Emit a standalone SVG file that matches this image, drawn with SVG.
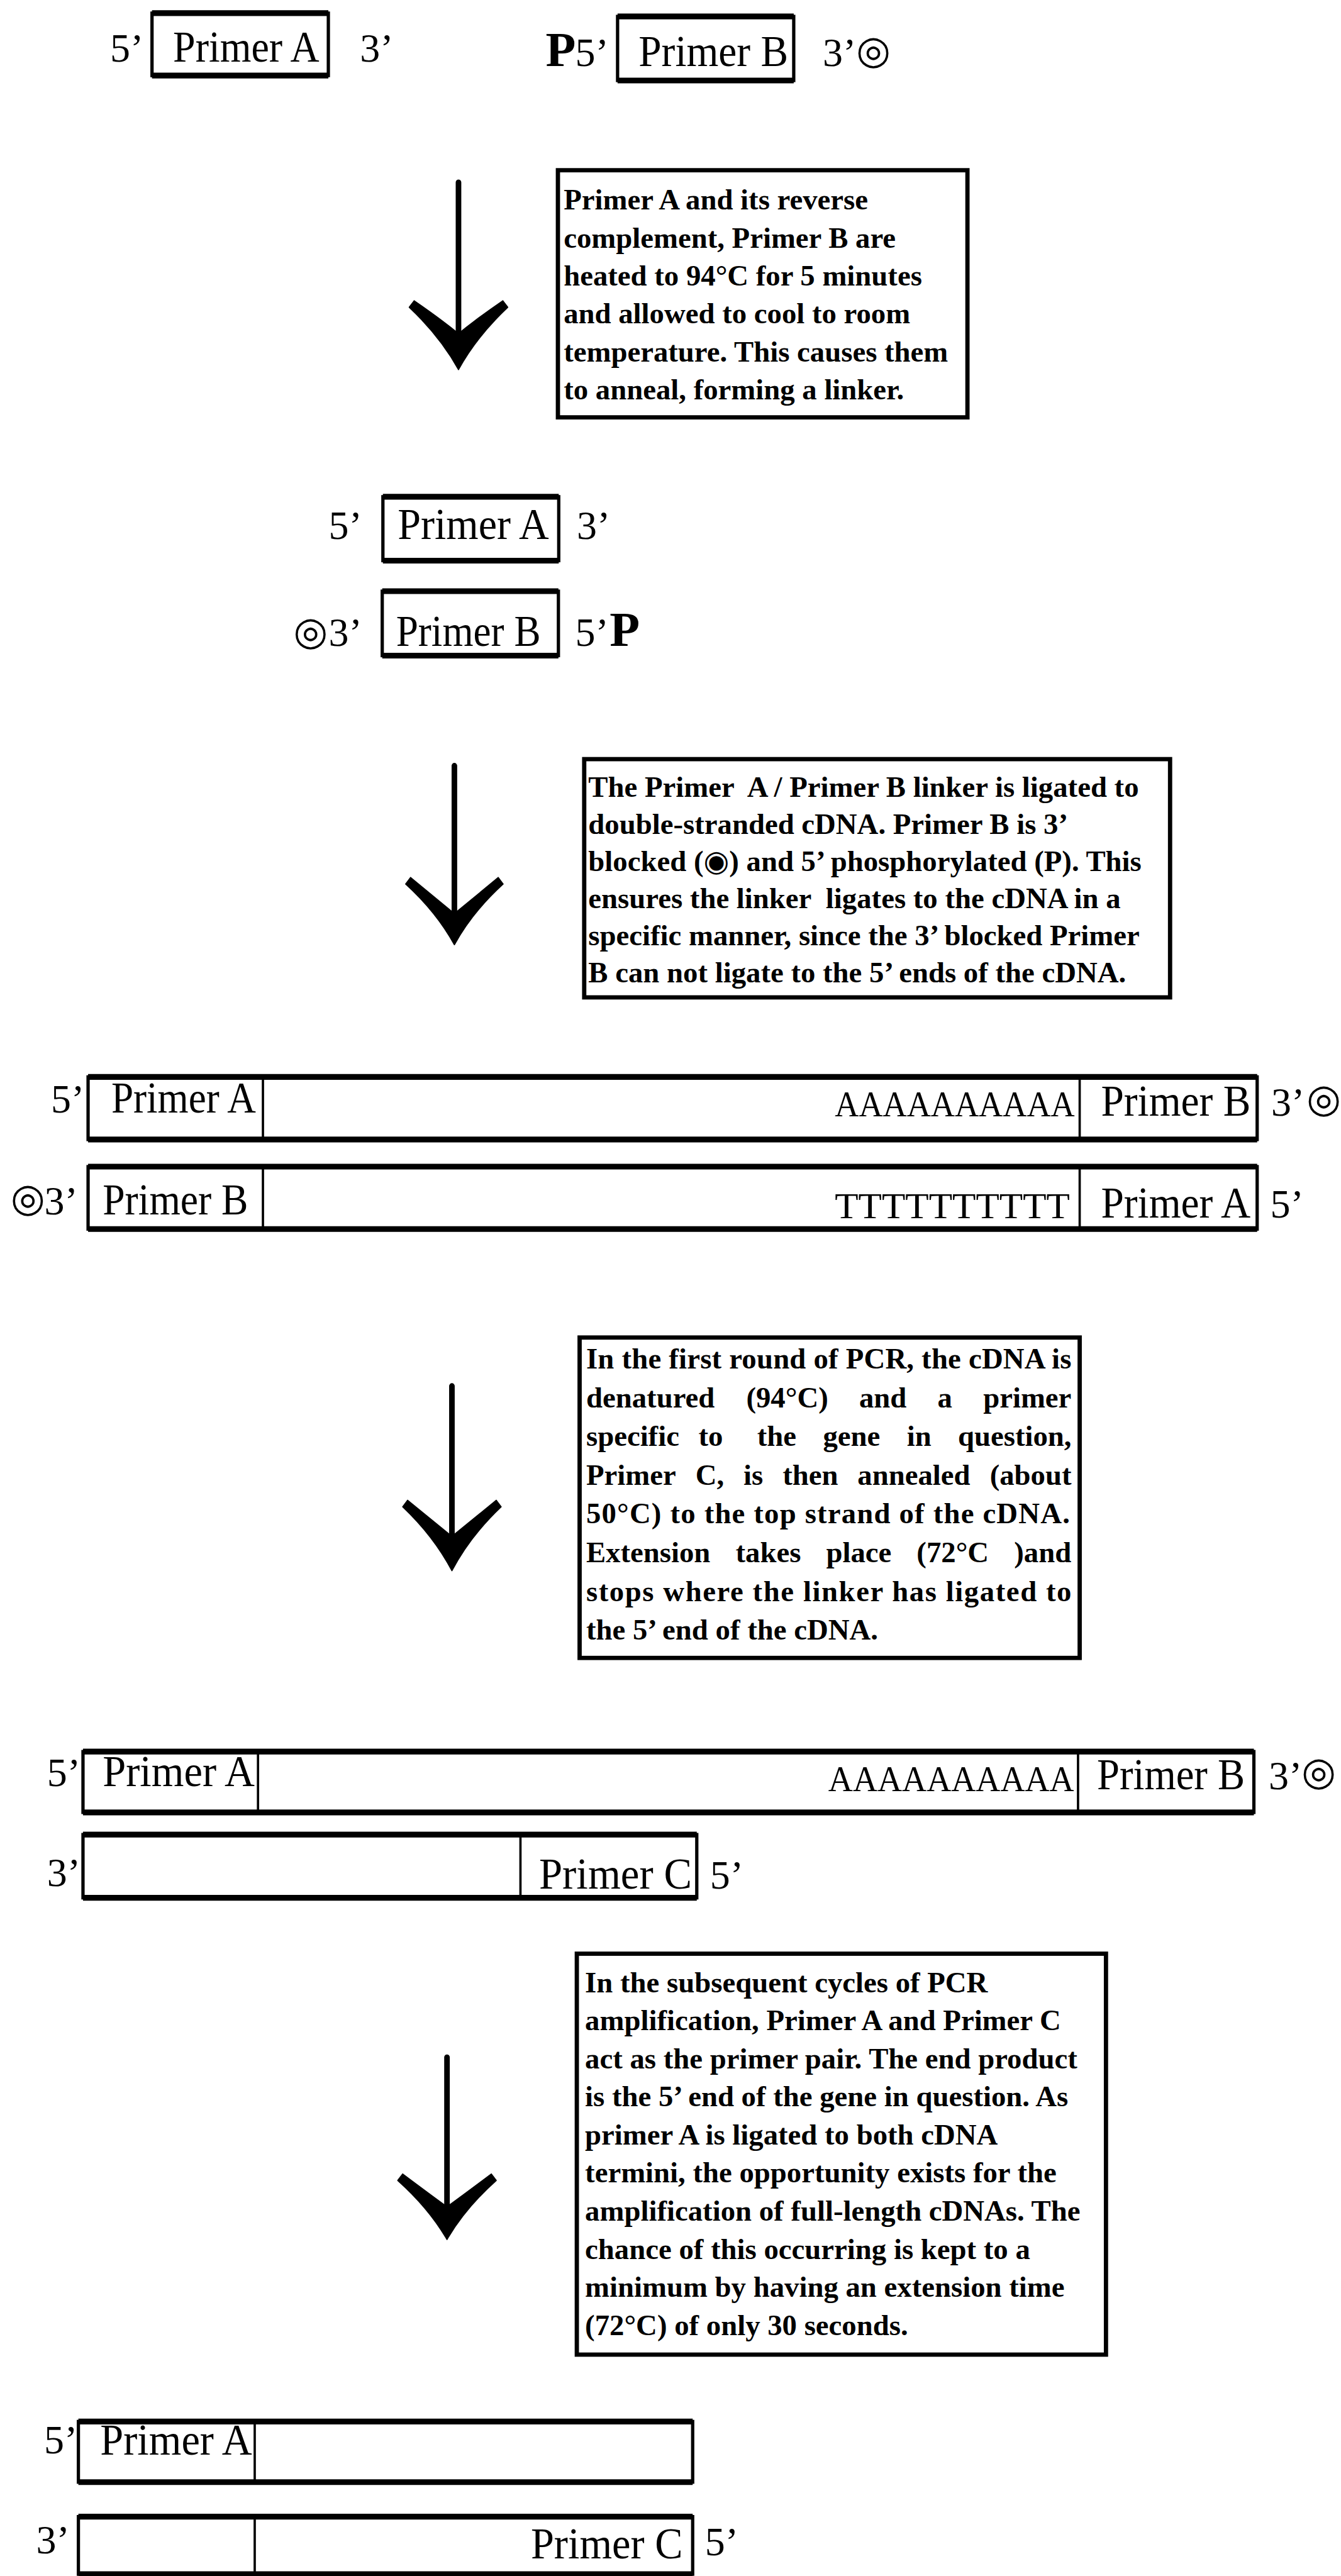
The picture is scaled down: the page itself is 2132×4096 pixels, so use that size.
<svg xmlns="http://www.w3.org/2000/svg" width="2132" height="4096" viewBox="0 0 2132 4096">
<style>
.lbl{font-family:"Liberation Serif","Times New Roman",serif;font-size:27px;fill:#000}
.pr{font-family:"Liberation Serif","Times New Roman",serif;font-size:24.5px;fill:#000}
.seq{font-family:"Liberation Serif","Times New Roman",serif;font-size:22px;fill:#000}
.pb{font-family:"Liberation Serif","Times New Roman",serif;font-weight:bold;font-size:30px;fill:#000}
.sym{font-family:"DejaVu Sans",sans-serif;font-weight:bold;font-size:24px;fill:#000;text-anchor:middle;dominant-baseline:central}
.note{font-family:"Liberation Serif","Times New Roman",serif;font-weight:bold;font-size:17.9px;fill:#000}
.dot{font-family:"DejaVu Sans",sans-serif}
.frame{fill:#fff;stroke:#000;stroke-width:2}
.thick{fill:none;stroke:#000;stroke-width:3.5}
.div{fill:none;stroke:#000;stroke-width:1.4}
.tbox{fill:#fff;stroke:#000;stroke-width:2.6}
.shaft{fill:none;stroke:#000;stroke-width:3.4;stroke-linecap:round}
.head{fill:#000;stroke:#000;stroke-width:0.6;stroke-linejoin:round}
</style>
<rect width="2132" height="4096" fill="#fff"/>
<g transform="scale(2.6127)">

<g id="connectors">
  <path class="shaft" d="M279,111 V203"/>
  <path class="head" d="M249,187 Q268,205 279,225 Q290,205 309,187 L306,183 Q290,194 279,203 Q268,194 252,183 Z"/>
  <path class="shaft" d="M276.5,466 V556"/>
  <path class="head" d="M246.8,538 Q265.5,555 276.5,575 Q287.5,555 306.2,538 L303.2,534 Q287.5,547 276.5,556 Q265.5,547 249.8,534 Z"/>
  <path class="shaft" d="M275,843.5 V935"/>
  <path class="head" d="M245,917 Q264,935 275,956 Q286,935 305,917 L302,913 Q286,926 275,935 Q264,926 248,913 Z"/>
  <path class="shaft" d="M272,1252 V1343"/>
  <path class="head" d="M242,1327 Q261,1344 272,1363 Q283,1344 302,1327 L299,1323 Q283,1335 272,1343 Q261,1335 245,1323 Z"/>
</g>

<g id="primerA-single">
  <text class="pr" x="67" y="37.5">5’</text>
  <rect class="frame" x="92.5" y="8" width="107.3" height="38"/>
  <path class="thick" d="M92.5,8 H199.8 M92.5,46 H199.8"/>
  <text class="lbl" x="105.3" y="37.5" textLength="89" lengthAdjust="spacingAndGlyphs">Primer A</text>
  <text class="pr" x="219" y="37.5">3’</text>
</g>

<g id="primerB-single">
  <text class="pb" x="332" y="40">P</text>
  <text class="pr" x="350" y="40">5’</text>
  <rect class="frame" x="375.8" y="10" width="107.2" height="39"/>
  <path class="thick" d="M375.8,10 H483 M375.8,49 H483"/>
  <text class="lbl" x="388.6" y="40" textLength="91" lengthAdjust="spacingAndGlyphs">Primer B</text>
  <text class="pr" x="500.6" y="40">3’</text>
  <text class="sym" x="531.5" y="30.5">◎</text>
</g>

<g id="note1">
  <rect class="tbox" x="339.5" y="103.6" width="249.2" height="150.4"/>
  <text class="note" x="343" y="127.6">Primer A and its reverse</text>
  <text class="note" x="343" y="150.7">complement, Primer B are</text>
  <text class="note" x="343" y="173.8">heated to 94°C for 5 minutes</text>
  <text class="note" x="343" y="196.9">and allowed to cool to room</text>
  <text class="note" x="343" y="220">temperature. This causes them</text>
  <text class="note" x="343" y="243.1">to anneal, forming a linker.</text>
</g>

<g id="linker-top">
  <text class="pr" x="200" y="328">5’</text>
  <rect class="frame" x="233" y="302.3" width="107" height="38.9"/>
  <path class="thick" d="M233,302.3 H340 M233,341.2 H340"/>
  <text class="lbl" x="242" y="328" textLength="92" lengthAdjust="spacingAndGlyphs">Primer A</text>
  <text class="pr" x="351" y="328">3’</text>
</g>

<g id="linker-bottom">
  <text class="sym" x="189" y="384">◎</text>
  <text class="pr" x="200" y="393">3’</text>
  <rect class="frame" x="232.6" y="359.8" width="107.2" height="39.2"/>
  <path class="thick" d="M232.6,359.8 H339.8 M232.6,399 H339.8"/>
  <text class="lbl" x="241" y="393" textLength="88" lengthAdjust="spacingAndGlyphs">Primer B</text>
  <text class="pr" x="350" y="393">5’</text>
  <text class="pb" x="371" y="393" font-size="29">P</text>
</g>

<g id="note2">
  <rect class="tbox" x="355.5" y="462" width="356.5" height="145"/>
  <text class="note" x="358" y="485" xml:space="preserve">The Primer  A / Primer B linker is ligated to</text>
  <text class="note" x="358" y="507.6">double-stranded cDNA. Primer B is 3’</text>
  <text class="note" x="358" y="530.2">blocked (<tspan class="dot">◉</tspan>) and 5’ phosphorylated (P). This</text>
  <text class="note" x="358" y="552.8" xml:space="preserve">ensures the linker  ligates to the cDNA in a</text>
  <text class="note" x="358" y="575.4">specific manner, since the 3’ blocked Primer</text>
  <text class="note" x="358" y="598">B can not ligate to the 5’ ends of the cDNA.</text>
</g>

<g id="cdna-top">
  <text class="pr" x="31" y="677">5’</text>
  <rect class="frame" x="53.6" y="655.4" width="711.4" height="38.1"/>
  <path class="thick" d="M53.6,655.4 H765 M53.6,693.5 H765"/>
  <path class="div" d="M160,655.4 V693.5 M657,655.4 V693.5"/>
  <text class="lbl" x="67.7" y="677" textLength="88" lengthAdjust="spacingAndGlyphs">Primer A</text>
  <text class="seq" x="508" y="679.5" textLength="146" lengthAdjust="spacingAndGlyphs">AAAAAAAAAA</text>
  <text class="lbl" x="670" y="679" textLength="91" lengthAdjust="spacingAndGlyphs">Primer B</text>
  <text class="pr" x="773.5" y="679">3’</text>
  <text class="sym" x="805.5" y="668.5">◎</text>
</g>

<g id="cdna-bottom">
  <text class="sym" x="17" y="729">◎</text>
  <text class="pr" x="27" y="739">3’</text>
  <rect class="frame" x="53.6" y="710" width="711.4" height="38"/>
  <path class="thick" d="M53.6,710 H765 M53.6,748 H765"/>
  <path class="div" d="M160,710 V748 M657,710 V748"/>
  <text class="lbl" x="62.5" y="739" textLength="88.5" lengthAdjust="spacingAndGlyphs">Primer B</text>
  <text class="seq" x="508" y="741.5" textLength="143" lengthAdjust="spacingAndGlyphs">TTTTTTTTTT</text>
  <text class="lbl" x="670" y="741" textLength="91" lengthAdjust="spacingAndGlyphs">Primer A</text>
  <text class="pr" x="773" y="741">5’</text>
</g>

<g id="note3">
  <rect class="tbox" x="352.7" y="814" width="304.3" height="195"/>
  <text class="note" x="356.7" y="832.8" textLength="295.3" lengthAdjust="spacing">In the first round of PCR, the cDNA is</text>
  <text class="note" y="856.4"><tspan x="356.7">denatured</tspan><tspan x="454.1">(94°C)</tspan><tspan x="522.8">and</tspan><tspan x="570.5">a</tspan><tspan x="598.3">primer</tspan></text>
  <text class="note" y="880"><tspan x="356.7">specific</tspan><tspan x="425">to</tspan><tspan x="460.7">the</tspan><tspan x="500.8">gene</tspan><tspan x="551.8">in</tspan><tspan x="582.9">question,</tspan></text>
  <text class="note" y="903.6"><tspan x="356.7">Primer</tspan><tspan x="423.2">C,</tspan><tspan x="452.4">is</tspan><tspan x="476.2">then</tspan><tspan x="521.8">annealed</tspan><tspan x="602.3">(about</tspan></text>
  <text class="note" x="356.7" y="927.2" textLength="294.3" lengthAdjust="spacing">50°C) to the top strand of the cDNA.</text>
  <text class="note" y="950.8"><tspan x="356.7">Extension</tspan><tspan x="447.6">takes</tspan><tspan x="502.7">place</tspan><tspan x="557.8">(72°C</tspan><tspan x="617.1">)and</tspan></text>
  <text class="note" x="356.7" y="974.4" textLength="295.3" lengthAdjust="spacing">stops where the linker has ligated to</text>
  <text class="note" x="356.7" y="998">the 5’ end of the cDNA.</text>
</g>

<g id="extension-top">
  <text class="pr" x="28.6" y="1087">5’</text>
  <rect class="frame" x="50.5" y="1066" width="712.5" height="37"/>
  <path class="thick" d="M50.5,1066 H763 M50.5,1103 H763"/>
  <path class="div" d="M157,1066 V1103 M656,1066 V1103"/>
  <text class="lbl" x="62.5" y="1087" textLength="92.5" lengthAdjust="spacingAndGlyphs">Primer A</text>
  <text class="seq" x="504" y="1090" textLength="149.6" lengthAdjust="spacingAndGlyphs">AAAAAAAAAA</text>
  <text class="lbl" x="667.5" y="1089" textLength="90" lengthAdjust="spacingAndGlyphs">Primer B</text>
  <text class="pr" x="772" y="1089">3’</text>
  <text class="sym" x="802.5" y="1078">◎</text>
</g>

<g id="extension-bottom">
  <text class="pr" x="28.6" y="1148">3’</text>
  <rect class="frame" x="50.5" y="1116.5" width="373.5" height="38.5"/>
  <path class="thick" d="M50.5,1116.5 H424 M50.5,1155 H424"/>
  <path class="div" d="M316.7,1116.5 V1155"/>
  <text class="lbl" x="328" y="1149.5" textLength="93" lengthAdjust="spacingAndGlyphs">Primer C</text>
  <text class="pr" x="432" y="1149.5">5’</text>
</g>

<g id="note4">
  <rect class="tbox" x="351" y="1189" width="322" height="244"/>
  <text class="note" x="356" y="1212.4">In the subsequent cycles of PCR</text>
  <text class="note" x="356" y="1235.6">amplification, Primer A and Primer C</text>
  <text class="note" x="356" y="1258.8">act as the primer pair. The end product</text>
  <text class="note" x="356" y="1282">is the 5’ end of the gene in question. As</text>
  <text class="note" x="356" y="1305.1">primer A is ligated to both cDNA</text>
  <text class="note" x="356" y="1328.3">termini, the opportunity exists for the</text>
  <text class="note" x="356" y="1351.5">amplification of full-length cDNAs. The</text>
  <text class="note" x="356" y="1374.7">chance of this occurring is kept to a</text>
  <text class="note" x="356" y="1397.8">minimum by having an extension time</text>
  <text class="note" x="356" y="1421">(72°C) of only 30 seconds.</text>
</g>

<g id="product-top">
  <text class="pr" x="26.8" y="1493">5’</text>
  <rect class="frame" x="47.7" y="1473.7" width="373.8" height="36.9"/>
  <path class="thick" d="M47.7,1473.7 H421.5 M47.7,1510.6 H421.5"/>
  <path class="div" d="M155,1473.7 V1510.6"/>
  <text class="lbl" x="61" y="1493.7" textLength="92.4" lengthAdjust="spacingAndGlyphs">Primer A</text>
</g>

<g id="product-bottom">
  <text class="pr" x="22" y="1554">3’</text>
  <rect class="frame" x="47.7" y="1531.6" width="373.8" height="35"/>
  <path class="thick" d="M47.7,1531.6 H421.5 M47.7,1566.6 H421.5"/>
  <path class="div" d="M155,1531.6 V1566.6"/>
  <text class="lbl" x="323" y="1557" textLength="92.5" lengthAdjust="spacingAndGlyphs">Primer C</text>
  <text class="pr" x="429" y="1555">5’</text>
</g>

</g>
</svg>
